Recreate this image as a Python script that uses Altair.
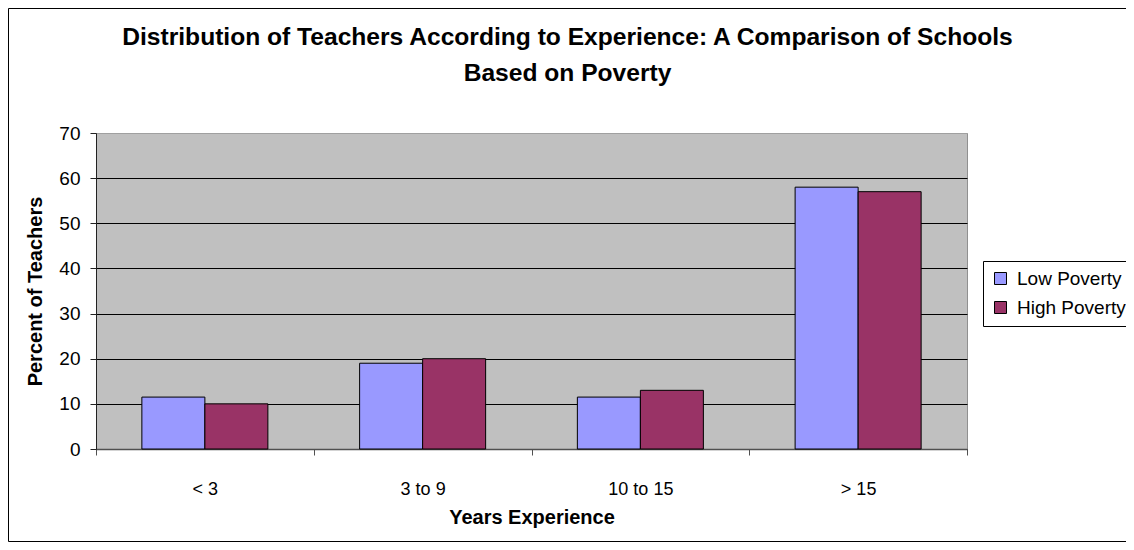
import altair as alt
import pandas as pd

categories = ["< 3", "3 to 9", "10 to 15", "> 15"]
low_poverty = [11.5, 19, 11.5, 58]
high_poverty = [10, 20, 13, 57]
series = ["Low Poverty", "High Poverty"]
colors = ["#9999FF", "#993366"]
y_ticks = [0, 10, 20, 30, 40, 50, 60, 70]

rows = []
for c, lo, hi in zip(categories, low_poverty, high_poverty):
    rows.append({"cat": c, "series": series[0], "value": lo})
    rows.append({"cat": c, "series": series[1], "value": hi})
df = pd.DataFrame(rows)

FONT = "Liberation Sans"
W, H = 871, 316

frame = alt.Chart(pd.DataFrame({"a": [0]})).mark_rect(
    filled=False, stroke="black", strokeWidth=1, clip=False
).encode(
    x=alt.value(-87.5), x2=alt.value(1060), y=alt.value(-124.5), y2=alt.value(408.5)
)

bars = alt.Chart(df).mark_bar(stroke="black", strokeWidth=1).encode(
    x=alt.X(
        "cat:N", sort=categories,
        scale=alt.Scale(paddingInner=0, paddingOuter=0),
        axis=alt.Axis(
            title="Years Experience", labelAngle=0, tickBand="extent",
            labelFont=FONT, labelFontSize=18, labelColor="black",
            labelPadding=25, tickSize=6, tickColor="#505050",
            domainColor="#505050", domainWidth=1.5,
            titleFont=FONT, titleFontSize=20, titleFontWeight="bold",
            titleColor="black", titlePadding=9, grid=False,
        ),
    ),
    xOffset=alt.XOffset(
        "series:N", sort=series,
        scale=alt.Scale(paddingInner=0, paddingOuter=0.728),
    ),
    y=alt.Y(
        "value:Q",
        scale=alt.Scale(domain=[0, 70], nice=False),
        axis=alt.Axis(
            title="Percent of Teachers", values=y_ticks, format="d",
            labelFont=FONT, labelFontSize=19, labelColor="black",
            labelPadding=10, tickSize=6, tickColor="#222222",
            domainColor="#222222", domainWidth=1,
            grid=True,
            gridColor={"condition": {"test": "datum.value === 70", "value": "#A0A0A0"}, "value": "black"},
            gridWidth=1,
            titleFont=FONT, titleFontSize=20, titleFontWeight="bold",
            titleColor="black", titlePadding=13,
        ),
    ),
    color=alt.Color(
        "series:N", sort=series,
        scale=alt.Scale(domain=series, range=colors),
        legend=alt.Legend(
            title=None, orient="none", legendX=887, legendY=128,
            symbolType="square", symbolSize=144, symbolStrokeColor="black",
            symbolStrokeWidth=1, symbolOpacity=1,
            labelFont=FONT, labelFontSize=19, labelColor="black", labelOffset=7,
            rowPadding=9, padding=8, strokeColor="black",
        ),
    ),
)

chart = alt.layer(frame, bars).properties(
    width=W, height=H, background="white",
    title=alt.Title(
        text=["Distribution of Teachers According to Experience: A Comparison of Schools",
              "Based on Poverty"],
        font=FONT, fontSize=24.6, fontWeight="bold", color="black",
        anchor="middle", frame="group", dx=36, offset=0, dy=79, lineHeight=36,
    ),
    autosize=alt.AutoSizeParams(type="none"),
    padding={"left": 88, "top": 125, "right": 159, "bottom": 93},
).configure_view(
    fill="#C0C0C0", stroke="#909090", strokeWidth=1
)

chart.save("out.html", embed_options={"renderer": "svg", "actions": False})
